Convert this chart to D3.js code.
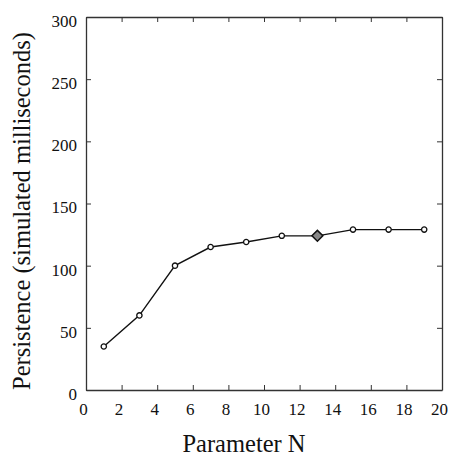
<!DOCTYPE html>
<html>
<head>
<meta charset="utf-8">
<script src="https://cdn.jsdelivr.net/npm/d3@7"></script>
<style>
  body { margin: 0; background: #fff; }
  svg { display: block; }
  svg text { font-family: "Liberation Serif", "DejaVu Serif", serif; }
  .tick text { font-size: 17px; fill: #111; }
  .domain, .tick line { stroke: #333; }
</style>
</head>
<body>
<svg></svg>
<script>
// data
const paramN = [1, 3, 5, 7, 9, 11, 13, 15, 17, 19];
const persistence = [35, 60, 100, 115, 119, 124, 124, 129, 129, 129];
const highlighted = [13]; // the big diamond
const xTicks = [0, 2, 4, 6, 8, 10, 12, 14, 16, 18, 20];
const yTicks = [0, 50, 100, 150, 200, 250, 300];

const width = 453, height = 461;
const margin = {top: 17, right: 11, bottom: 71, left: 86};
const serif = '"Liberation Serif", "DejaVu Serif", serif';

const svg = d3.select('svg').attr('width', width).attr('height', height);

const x = d3.scaleLinear().domain([0, 20]).range([margin.left, width - margin.right]);
const y = d3.scaleLinear().domain([0, 300]).range([height - margin.bottom, margin.top]);

// bottom axis, ticks pointing in
const xAxis = svg.append('g')
    .attr('transform', `translate(0,${y(0)})`)
    .call(d3.axisBottom(x).tickValues(xTicks).tickSizeInner(-5).tickSizeOuter(0).tickPadding(13));
xAxis.selectAll('text').attr('dx', '-3');

// left axis
const yAxis = svg.append('g')
    .attr('transform', `translate(${x(0)},0)`)
    .call(d3.axisLeft(y).tickValues(yTicks).tickSizeInner(-5).tickSizeOuter(0).tickPadding(9));
yAxis.selectAll('text').attr('dy', '0.55em');

// top and right frame with inward ticks, no labels
svg.append('g')
    .attr('transform', `translate(0,${y(300)})`)
    .call(d3.axisTop(x).tickValues(xTicks).tickSizeInner(-5).tickSizeOuter(0).tickFormat(''));
svg.append('g')
    .attr('transform', `translate(${x(20)},0)`)
    .call(d3.axisRight(y).tickValues(yTicks).tickSizeInner(-5).tickSizeOuter(0).tickFormat(''));

svg.selectAll('g').attr('font-family', serif);
svg.selectAll('.domain').attr('stroke-width', 1.3);

// the curve
const pts = paramN.map((n, i) => ({n, v: persistence[i]}));
const line = d3.line().x(d => x(d.n)).y(d => y(d.v));

svg.append('path')
    .attr('d', line(pts))
    .attr('fill', 'none')
    .attr('stroke', '#111')
    .attr('stroke-width', 1.4);

svg.selectAll('.pt')
    .data(pts.filter(d => !highlighted.includes(d.n)))
    .enter().append('path')
    .attr('class', 'pt')
    .attr('transform', d => `translate(${x(d.n)},${y(d.v)})`)
    .attr('d', d3.symbol().type(d3.symbolCircle).size(22))
    .attr('fill', '#fff')
    .attr('stroke', '#111')
    .attr('stroke-width', 1.3);

svg.selectAll('.big')
    .data(pts.filter(d => highlighted.includes(d.n)))
    .enter().append('path')
    .attr('class', 'big')
    .attr('transform', d => `translate(${x(d.n)},${y(d.v)}) rotate(45)`)
    .attr('d', d3.symbol().type(d3.symbolSquare).size(60))
    .attr('fill', '#888')
    .attr('stroke', '#111')
    .attr('stroke-width', 1.5);

// axis titles
svg.append('text')
    .attr('x', 244)
    .attr('y', 452)
    .attr('text-anchor', 'middle')
    .attr('font-family', serif)
    .attr('font-size', 24.5)
    .attr('fill', '#111')
    .text('Parameter N');

svg.append('text')
    .attr('transform', 'translate(30,211) rotate(-90)')
    .attr('text-anchor', 'middle')
    .attr('font-family', serif)
    .attr('font-size', 24.5)
    .attr('fill', '#111')
    .text('Persistence (simulated milliseconds)');
</script>
</body>
</html>
